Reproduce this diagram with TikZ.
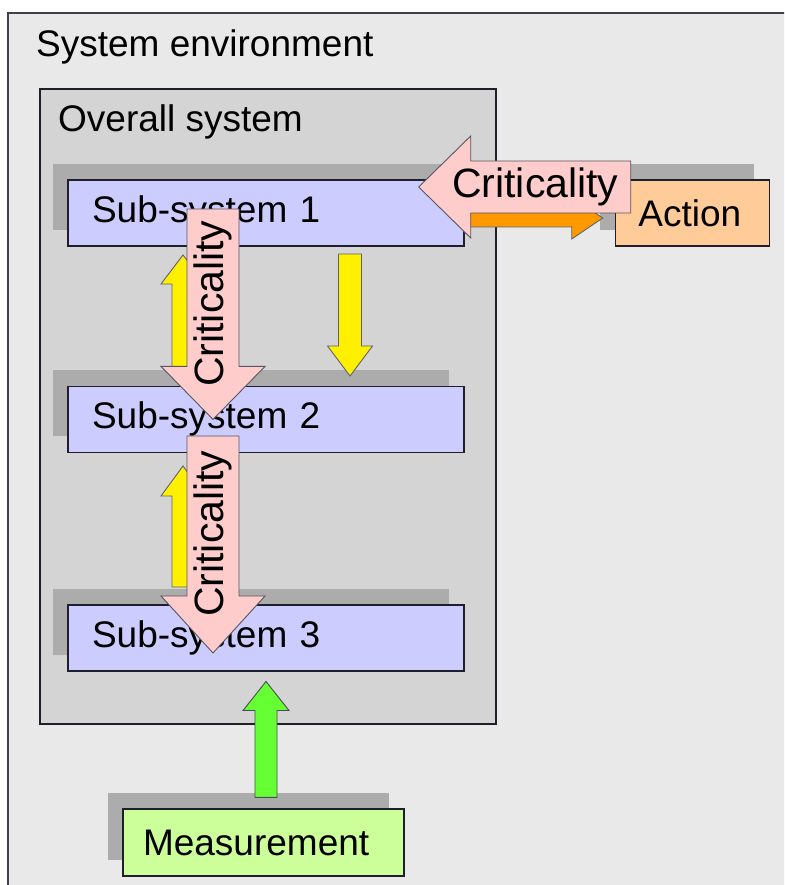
\documentclass[tikz,border=0pt]{standalone}
\usepackage{fontspec}
\setmainfont{Liberation Sans}
\usepackage{tikz}
\usetikzlibrary{positioning,calc,shadows}

\definecolor{envfill}{RGB}{233,233,233}
\definecolor{sysfill}{RGB}{212,212,212}
\definecolor{shadowgray}{RGB}{172,172,172}
\definecolor{subfill}{RGB}{204,204,255}
\definecolor{actfill}{RGB}{255,204,153}
\definecolor{measfill}{RGB}{204,255,153}
\definecolor{critfill}{RGB}{255,204,204}
\definecolor{yel}{RGB}{255,240,0}
\definecolor{org}{RGB}{255,153,0}
\definecolor{grn}{RGB}{102,255,51}
\definecolor{edge}{RGB}{30,30,45}

\begin{document}
\begin{tikzpicture}[x=1pt,y=-1pt,
      font=\fontsize{37}{44}\selectfont,
      envbox/.style ={fill=envfill,anchor=north west,inner sep=0},
      envline/.style={draw=edge!85,line width=1.8pt},
      sysbox/.style ={draw=edge,line width=1.6pt,fill=sysfill,anchor=north west,inner sep=0},
      box/.style    ={draw=edge,line width=1.4pt,minimum height=66pt,align=left,
                      drop shadow={shadow xshift=-15pt,shadow yshift=16pt,fill=shadowgray,opacity=1}},
      sub/.style    ={box,fill=subfill,text width=348pt,inner xsep=24pt},
      act/.style    ={box,fill=actfill,text width=108pt,inner xsep=23pt},
      meas/.style   ={box,fill=measfill,text width=241pt,inner xsep=20pt,minimum height=67pt},
      crit/.style   ={draw=edge!75,line width=0.9pt,fill=critfill},
      critlbl/.style={font=\fontsize{41}{48}\selectfont,inner sep=0},
      yarrow/.style ={draw=edge!70,line width=0.9pt,fill=yel},
      oarrow/.style ={draw=edge!70,line width=0.9pt,fill=org},
      garrow/.style ={draw=edge!80,line width=0.9pt,fill=grn}]
      \useasboundingbox (0,0) rectangle (784,885);
      \clip (0,0) rectangle (784,885);
      \fill[white] (0,0) rectangle (784,885);
      % Block arrow: [style]{from}{to}{half body}{half head}{head length}
      \newcommand{\fatarrow}[6][]{%
        \coordinate (fa-h) at ($(#3)!#6!(#2)$);
        \draw[#1] ($(#2)!#4!90:(#3)$) -- ($(fa-h)!#4!90:(#3)$) -- ($(fa-h)!#5!90:(#3)$)
          -- (#3) -- ($(fa-h)!#5!-90:(#3)$) -- ($(fa-h)!#4!-90:(#3)$) -- ($(#2)!#4!-90:(#3)$) -- cycle;
      }
      % Frames (environment runs past the right and bottom edges)
      \node[envbox,minimum width=820pt,minimum height=900pt] (env) at (8,13) {};
      \draw[envline] (env.south west) -- (env.north west) -- (env.north east);
      \node[anchor=base west,inner sep=0] (envlbl) at (36,57) {System environment};
      \node[sysbox,minimum width=456pt,minimum height=635pt] (overall) at (39,88) {};
      \node[anchor=base west,inner sep=0] (overlbl) at (58,132) {Overall system};
      % Boxes
      \node[sub] (ss1) at (266,213) {Sub-system 1};
      \node[sub,below=139pt of ss1] (ss2) {Sub-system 2};
      \node[sub,below=151pt of ss2] (ss3) {Sub-system 3};
      \node[act,right=150pt of ss1] (act) {Action};
      \node[meas] (meas) at (263.5,842.5) {Measurement};
      % Arrow end points
      \coordinate (y1s) at (183,370);  \coordinate (y1e) at (183,255);
      \coordinate (y2s) at (183,587);  \coordinate (y2e) at (183,466);
      \coordinate (y3s) at (350,254);  \coordinate (y3e) at (350,376);
      \coordinate (ge) at ($(ss3.south)+(0,10)$);
      \coordinate (gs) at ($(ge |- meas.north)+(0,-11)$);
      \coordinate (p1s) at (213,209);  \coordinate (p1e) at (p1s |- ss2);
      \coordinate (p2s) at (213,436);  \coordinate (p2e) at (213,653);
      \coordinate (os) at ($(ss1.east)+(0,5)$);
      \coordinate (oe) at ($(act.west)+(-12,5)$);
      \coordinate (phs) at ($(act.west)+(16,-26)$);
      \coordinate (phe) at ($(ss1.east)+(-46,-26)$);
      % Feedback arrows
      \fatarrow[yarrow]{y1s}{y1e}{11pt}{22pt}{29pt}
      \fatarrow[yarrow]{y2s}{y2e}{11pt}{22pt}{30pt}
      \fatarrow[yarrow]{y3s}{y3e}{11.5pt}{22.5pt}{30pt}
      \fatarrow[garrow]{gs}{ge}{11pt}{23pt}{29pt}
      % Criticality
      \fatarrow[crit]{p1s}{p1e}{26pt}{52pt}{53pt}
      \node[critlbl,rotate=90] (c1) at ($(p1s)!0.45!(p1e)$) {Criticality};
      \fatarrow[crit]{p2s}{p2e}{26pt}{52pt}{57pt}
      \node[critlbl,rotate=90] (c2) at ($(p2s)!0.45!(p2e)$) {Criticality};
      \fatarrow[oarrow]{os}{oe}{9pt}{21pt}{31pt}
      \fatarrow[crit]{phs}{phe}{26pt}{51pt}{52pt}
      \node[critlbl] (c3) at ($(phs)!0.45!(phe)$) {Criticality};
  \end{tikzpicture}
\end{document}
